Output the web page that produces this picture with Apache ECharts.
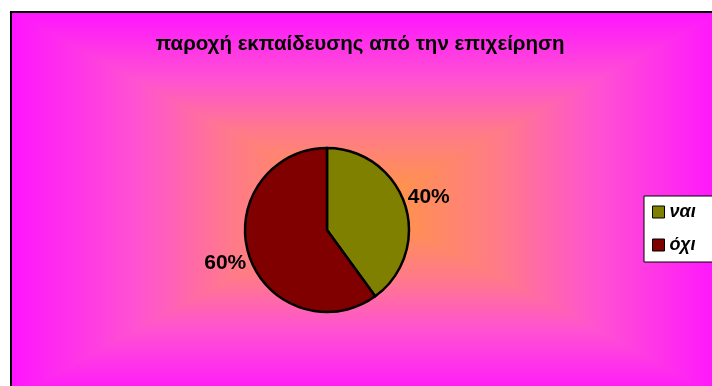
<!DOCTYPE html>
<html><head><meta charset="utf-8">
<script src="https://cdn.jsdelivr.net/npm/echarts@6/dist/echarts.min.js"></script>
<style>html,body{margin:0;padding:0;background:#fff}#c{width:712px;height:386px}</style>
</head><body><div id="c"></div>
<script>
const titleText = 'παροχή εκπαίδευσης από την επιχείρηση';
const categories = ['ναι', 'όχι'];
const values = [40, 60];
const colors = ['#808000', '#800000'];

// background area (chart area) with rectangular "from center" gradient
const X0 = 11, Y0 = 12, X1 = 722, Y1 = 398;
const CX = (X0 + X1) / 2, CY = (Y0 + Y1) / 2;
const stops = [
  { offset: 0, color: '#FF14FF' },
  { offset: 0.35, color: '#FF52D2' },
  { offset: 0.62, color: '#FF7A8A' },
  { offset: 1, color: '#FF9A3A' }
];
function lg(x, y, x2, y2) { return { type: 'linear', x, y, x2, y2, colorStops: stops }; }
const e = 2;
const bg = [
  { type: 'polygon', shape: { points: [[X0, Y0], [X0, Y1], [CX, CY]] }, style: { fill: lg(0, 0, 1, 0) } },
  { type: 'polygon', shape: { points: [[X1, Y0], [X1, Y1], [CX, CY]] }, style: { fill: lg(1, 0, 0, 0) } },
  { type: 'polygon', shape: { points: [[X0 - e, Y0], [X1 + e, Y0], [CX + e, CY], [CX - e, CY]] }, style: { fill: lg(0, 0, 0, 1) } },
  { type: 'polygon', shape: { points: [[X0 - e, Y1], [X1 + e, Y1], [CX + e, CY], [CX - e, CY]] }, style: { fill: lg(0, 1, 0, 0) } },
  { type: 'rect', shape: { x: X0, y: Y0, width: X1 - X0, height: Y1 - Y0 }, style: { fill: 'none', stroke: '#000', lineWidth: 2 } }
].map(o => Object.assign(o, { silent: true, z: -10 }));

const chart = echarts.init(document.getElementById('c'), null, { renderer: 'canvas' });
chart.setOption({
  animation: false,
  graphic: bg,
  title: {
    text: titleText, left: 355, top: 29, textAlign: 'center',
    textStyle: { fontFamily: 'Liberation Sans, Arial', fontWeight: 'bold', fontSize: 20.5, color: '#000' }
  },
  legend: {
    orient: 'vertical', left: 644, top: 196,
    backgroundColor: '#fff', borderColor: '#000', borderWidth: 1,
    padding: [7, 40, 8, 8], itemGap: 15, itemWidth: 12, itemHeight: 12,
    icon: 'rect',
    itemStyle: { borderColor: '#000', borderWidth: 1 },
    textStyle: { fontFamily: 'Liberation Sans, Arial', fontWeight: 'bold', fontStyle: 'italic', fontSize: 18, color: '#000' },
    data: categories
  },
  series: [{
    type: 'pie',
    center: [327, 230], radius: 82,
    startAngle: 90, clockwise: true,
    avoidLabelOverlap: false,
    itemStyle: { borderColor: '#000', borderWidth: 2.5 },
    label: {
      show: true, position: 'outside', formatter: '{d}%',
      fontFamily: 'Liberation Sans, Arial', fontWeight: 'bold', fontSize: 21, color: '#000',
      distanceToLabelLine: 0
    },
    labelLine: { show: false, length: 25, length2: 0 },
    labelLayout: function () { return { align: 'center', verticalAlign: 'middle' }; },
    emphasis: { disabled: true },
    data: categories.map((c, i) => ({ name: c, value: values[i], itemStyle: { color: colors[i] } }))
  }]
});
</script></body></html>
